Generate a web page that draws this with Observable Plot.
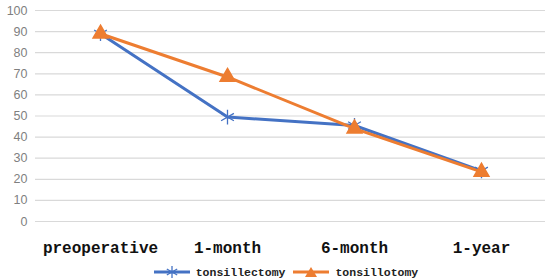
<!DOCTYPE html>
<html>
<head>
<meta charset="utf-8">
<script src="https://cdn.jsdelivr.net/npm/d3@7"></script>
<script src="https://cdn.jsdelivr.net/npm/@observablehq/plot@0.6"></script>
<style>
  body { margin: 0; background: #fff; }
  #chart { width: 550px; height: 280px; position: relative; }
  .legend { display: flex; justify-content: center; align-items: center; height: 16px; margin-left: 22px;
    font-family: "Liberation Mono", "DejaVu Sans Mono", monospace; font-weight: bold; font-size: 11.5px; color: #222; }
  .legend span.item { display: inline-flex; align-items: center; margin: 0 4px; }
  .legend svg { margin-right: 6px; }
</style>
</head>
<body>
<div id="chart"></div>
<script>
const categories = ["preoperative", "1-month", "6-month", "1-year"];
const tonsillectomy = [89, 49.5, 45.5, 24];
const tonsillotomy = [89, 68.5, 44, 23.5];
const yTicks = [0, 10, 20, 30, 40, 50, 60, 70, 80, 90, 100];
const seriesNames = ["tonsillectomy", "tonsillotomy"];
const colors = ["#4472C4", "#ED7D31"];

const data = [];
categories.forEach((c, i) => {
  data.push({cat: c, series: seriesNames[0], value: tonsillectomy[i]});
  data.push({cat: c, series: seriesNames[1], value: tonsillotomy[i]});
});
const tA = data.filter(d => d.series === seriesNames[0]);
const tB = data.filter(d => d.series === seriesNames[1]);

const plot = Plot.plot({
  width: 550,
  height: 264,
  marginLeft: 35,
  marginRight: 5,
  marginTop: 10,
  marginBottom: 43,
  style: { background: "#fff", overflow: "visible" },
  x: { type: "point", domain: categories, padding: 0.5, label: null },
  y: { domain: [0, 100], label: null },
  marks: [
    Plot.gridY(yTicks, { stroke: "#d9d9d9", strokeOpacity: 1, strokeWidth: 1.2 }),
    Plot.axisY(yTicks, { tickSize: 0, tickPadding: 8, fontSize: 12.5, fill: "#7f7f7f",
      fontFamily: "Liberation Sans, Arial, sans-serif", label: null }),
    Plot.axisX({ tickSize: 0, tickPadding: 20, fontSize: 16, fontWeight: "bold", fill: "#111",
      fontFamily: "Liberation Mono, Courier New, monospace", label: null }),
    Plot.line(tA, { x: "cat", y: "value", stroke: colors[0], strokeWidth: 3 }),
    Plot.line(tB, { x: "cat", y: "value", stroke: colors[1], strokeWidth: 3 }),
    Plot.dot(tA, { x: "cat", y: "value", symbol: "asterisk", r: 7, stroke: colors[0], strokeWidth: 1.3 }),
    Plot.dot(tB, { x: "cat", y: "value", symbol: "triangle", r: 5.5, fill: colors[1], stroke: colors[1] })
  ]
});

const chart = document.getElementById("chart");
chart.appendChild(plot);

const legend = document.createElement("div");
legend.className = "legend";
function sample(color, shape) {
  const s = shape === "star"
    ? `<g stroke="${color}" stroke-width="1.3"><line x1="18" y1="1" x2="18" y2="13"/><line x1="12.8" y1="4" x2="23.2" y2="10"/><line x1="12.8" y1="10" x2="23.2" y2="4"/></g>`
    : `<polygon points="18,2 24,12 12,12" fill="${color}"/>`;
  return `<svg width="36" height="14"><line x1="0" y1="7" x2="36" y2="7" stroke="${color}" stroke-width="3"/>${s}</svg>`;
}
legend.innerHTML =
  `<span class="item">${sample(colors[0], "star")}${seriesNames[0]}</span>` +
  `<span class="item">${sample(colors[1], "tri")}${seriesNames[1]}</span>`;
chart.appendChild(legend);
</script>
</body>
</html>
